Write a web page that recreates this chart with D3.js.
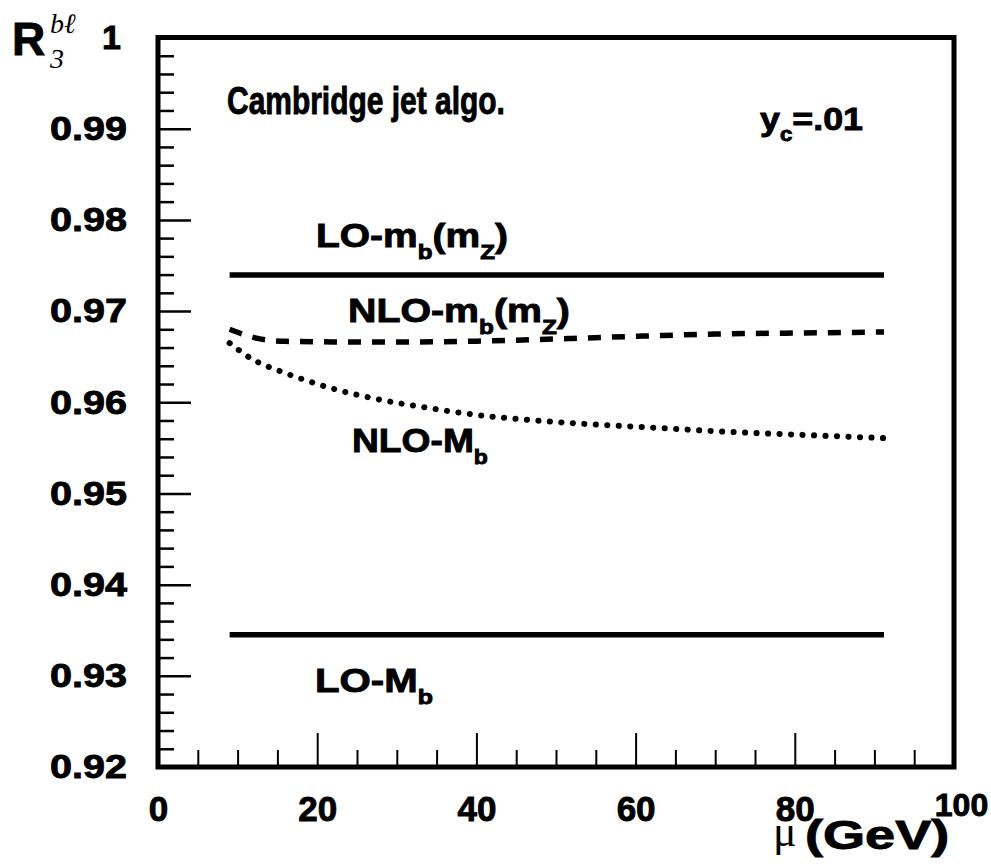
<!DOCTYPE html>
<html>
<head>
<meta charset="utf-8">
<script src="https://cdn.jsdelivr.net/npm/d3@7"></script>
<style>
  html, body { margin: 0; padding: 0; background: #fff; }
  svg { display: block; }
  text { font-family: "Liberation Sans", Arial, Helvetica, sans-serif; font-weight: bold; fill: #000; }
  .heavy { stroke: #000; stroke-width: 0.9px; }
</style>
</head>
<body>
<svg id="chart" width="991" height="867"></svg>
<script>
// ---------------- data ----------------
const muRange = [9, 91.2];
const loMzValue = 0.97395;   // LO-m_b(m_Z)
const loMbValue = 0.9345;    // LO-M_b

const muNLOmZ = [9, 12.5, 16, 22, 30, 40, 52, 61, 70, 80, 91.2];
const rNLOmZ  = [0.9680, 0.9670, 0.96668, 0.96662, 0.96660, 0.96670, 0.96700, 0.96726, 0.96748, 0.96759, 0.96770];

const muNLOMb = [9, 11.6, 15.6, 18.5, 22.6, 27.5, 33.3, 40.1, 48.4, 63.1, 72.3, 81.6, 91.2];
const rNLOMb  = [0.96649, 0.96485, 0.96332, 0.96243, 0.96134, 0.96035, 0.95947, 0.95860, 0.95794, 0.95717, 0.95673, 0.95640, 0.95607];

const xMajorTicks = [0, 20, 40, 60, 80, 100];
const xTickLabels = ["0", "20", "40", "60", "80", "100"];
const yMajorTicks = [0.92, 0.93, 0.94, 0.95, 0.96, 0.97, 0.98, 0.99, 1.0];
const yTickLabels = ["0.92", "0.93", "0.94", "0.95", "0.96", "0.97", "0.98", "0.99", "1"];

// ---------------- layout ----------------
const svg = d3.select("#chart");
const x = d3.scaleLinear().domain([0, 100]).range([158, 954]);
const y = d3.scaleLinear().domain([0.92, 1.0]).range([767, 37.5]);

// minor ticks
const xMinor = d3.range(0, 100.001, 5).filter(v => !xMajorTicks.includes(v));
const yMinor = d3.range(0, 41).map(i => +(0.92 + i * 0.002).toFixed(3))
  .filter(v => !yMajorTicks.some(m => Math.abs(m - v) < 1e-9));

const gAx = svg.append("g");

// left axis: minor + major ticks (inward)
gAx.append("g").attr("transform", `translate(${x(0)},0)`)
  .call(d3.axisLeft(y).tickValues(yMinor).tickSize(-16).tickFormat(""))
  .call(g => g.select(".domain").remove())
  .call(g => g.selectAll("line").attr("stroke", "#000").attr("stroke-width", 2.5));
gAx.append("g").attr("transform", `translate(${x(0)},0)`)
  .call(d3.axisLeft(y).tickValues(yMajorTicks).tickSize(-33).tickPadding(31)
        .tickFormat((d, i) => yTickLabels[i]))
  .call(g => g.select(".domain").remove())
  .call(g => g.selectAll("line").attr("stroke", "#000").attr("stroke-width", 2.5))
  .call(g => g.selectAll("text").attr("font-size", 34).attr("font-family", null)
        .attr("class", "heavy").style("font-weight", "bold")
        .attr("dx", d => d === 1.0 ? -6 : 0)
        .each(function(d) {
          if (d !== 1.0) d3.select(this).attr("textLength", 77).attr("lengthAdjust", "spacingAndGlyphs");
        }));

// bottom axis
gAx.append("g").attr("transform", `translate(0,${y(0.92)})`)
  .call(d3.axisBottom(x).tickValues(xMinor).tickSize(-17).tickFormat(""))
  .call(g => g.select(".domain").remove())
  .call(g => g.selectAll("line").attr("stroke", "#000").attr("stroke-width", 2));
gAx.append("g").attr("transform", `translate(0,${y(0.92)})`)
  .call(d3.axisBottom(x).tickValues(xMajorTicks).tickSize(-34).tickPadding(29)
        .tickFormat((d, i) => xTickLabels[i]))
  .call(g => g.select(".domain").remove())
  .call(g => g.selectAll("line").attr("stroke", "#000").attr("stroke-width", 2))
  .call(g => g.selectAll("text").attr("font-family", null)
        .attr("font-size", d => d === 100 ? 32 : 35)
        .attr("class", "heavy").style("font-weight", "bold")
        .attr("dx", (d) => d === 100 ? 7 : 0)
        .attr("dy", (d) => d === 100 ? "0.62em" : "0.71em"));

// frame
svg.append("rect")
  .attr("x", x(0)).attr("y", y(1.0))
  .attr("width", x(100) - x(0)).attr("height", y(0.92) - y(1.0))
  .attr("fill", "none").attr("stroke", "#000").attr("stroke-width", 5);

// ---------------- data lines ----------------
const line = d3.line().x(d => x(d[0])).y(d => y(d[1])).curve(d3.curveMonotoneX);

svg.append("path").datum(muRange.map(m => [m, loMzValue]))
  .attr("d", line).attr("fill", "none").attr("stroke", "#000").attr("stroke-width", 5.5);
svg.append("path").datum(muRange.map(m => [m, loMbValue]))
  .attr("d", line).attr("fill", "none").attr("stroke", "#000").attr("stroke-width", 5.5);

svg.append("path").datum(muNLOmZ.map((m, i) => [m, rNLOmZ[i]]))
  .attr("d", line).attr("fill", "none").attr("stroke", "#000").attr("stroke-width", 5.5)
  .attr("stroke-dasharray", "13,11");

svg.append("path").datum(muNLOMb.map((m, i) => [m, rNLOMb[i]]))
  .attr("d", line).attr("fill", "none").attr("stroke", "#000").attr("stroke-width", 6)
  .attr("stroke-linecap", "round").attr("stroke-dasharray", "0.1,11.4");

// ---------------- labels ----------------
// parts: [text, kind] kind: "n" normal, "sub" subscript, "back" return to baseline
function label(parts, x0, yBase, size, targetWidth) {
  const g = svg.append("g");
  const t = g.append("text").attr("font-size", size).attr("class", "heavy");
  parts.forEach(([s, kind]) => {
    const ts = t.append("tspan").text(s);
    if (kind === "sub") ts.attr("font-size", size * 0.62).attr("dy", size * 0.34);
    else if (kind === "back") ts.attr("dy", -size * 0.34);
  });
  const w = t.node().getComputedTextLength();
  const sx = targetWidth ? targetWidth / w : 1;
  g.attr("transform", `translate(${x0},${yBase}) scale(${sx},1)`);
  return g;
}

label([["Cambridge jet algo.", "n"]], 227, 114, 38, 278);
label([["y", "n"], ["c", "sub"], ["=.01", "back"]], 760, 130, 32, 103);
label([["LO-m", "n"], ["b", "sub"], ["(m", "back"], ["Z", "sub"], [")", "back"]], 316, 247, 34, 192);
label([["NLO-m", "n"], ["b", "sub"], ["(m", "back"], ["Z", "sub"], [")", "back"]], 348, 322, 34, 222);
label([["NLO-M", "n"], ["b", "sub"]], 352, 452, 34, 136);
label([["LO-M", "n"], ["b", "sub"]], 315, 692, 34, 118);

// y axis title R_3^{bℓ}
svg.append("text").attr("x", 12).attr("y", 55).attr("font-size", 46).attr("class", "heavy").text("R");
svg.append("text").attr("x", 50).attr("y", 33).attr("font-size", 28)
  .style("font-family", "'Liberation Serif', 'Times New Roman', serif")
  .style("font-style", "italic").style("font-weight", "normal").text("bℓ");
svg.append("text").attr("x", 50).attr("y", 68).attr("font-size", 28)
  .style("font-family", "'Liberation Serif', 'Times New Roman', serif")
  .style("font-style", "italic").style("font-weight", "normal").text("3");

// x axis title μ (GeV)
svg.append("text").attr("x", 773).attr("y", 846).attr("font-size", 44)
  .style("font-family", "'Liberation Serif', 'Times New Roman', serif")
  .style("font-weight", "normal").text("μ");
const gev = svg.append("g").attr("transform", "translate(805,849) scale(1.32,1)");
gev.append("text").attr("x", 0).attr("y", 0).attr("font-size", 41).attr("class", "heavy").text("(GeV)");
</script>
</body>
</html>
